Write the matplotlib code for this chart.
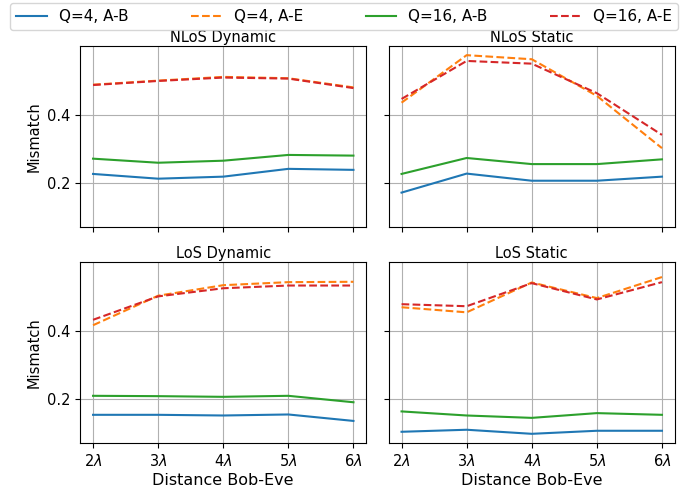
"""Plot the mismatch against the Bob-Eve distance for four scenarios."""

from matplotlib import pyplot


# Distances between Bob and Eve (in wavelengths).
distances = [2, 3, 4, 5, 6]
tick_labels = [r'$2\lambda$', r'$3\lambda$', r'$4\lambda$', r'$5\lambda$',
               r'$6\lambda$']

series_labels = ['Q=4, A-B', 'Q=4, A-E', 'Q=16, A-B', 'Q=16, A-E']

# Mismatch values (order: Q4 A-B, Q4 A-E, Q16 A-B, Q16 A-E).
nlos_dynamic = [
    [0.226, 0.212, 0.218, 0.241, 0.238],
    [0.489, 0.501, 0.512, 0.508, 0.481],
    [0.271, 0.259, 0.265, 0.282, 0.280],
    [0.488, 0.500, 0.510, 0.507, 0.479],
]
nlos_static = [
    [0.171, 0.227, 0.206, 0.206, 0.218],
    [0.436, 0.576, 0.564, 0.456, 0.302],
    [0.226, 0.273, 0.255, 0.255, 0.269],
    [0.447, 0.559, 0.551, 0.464, 0.341],
]
los_dynamic = [
    [0.154, 0.154, 0.152, 0.155, 0.136],
    [0.418, 0.505, 0.536, 0.545, 0.546],
    [0.210, 0.209, 0.207, 0.210, 0.191],
    [0.434, 0.503, 0.527, 0.535, 0.535],
]
los_static = [
    [0.104, 0.110, 0.098, 0.107, 0.107],
    [0.471, 0.456, 0.544, 0.498, 0.560],
    [0.164, 0.152, 0.145, 0.159, 0.154],
    [0.480, 0.474, 0.542, 0.494, 0.545],
]

panels = [
    ('NLoS Dynamic', nlos_dynamic),
    ('NLoS Static', nlos_static),
    ('LoS Dynamic', los_dynamic),
    ('LoS Static', los_static),
]

colors = ['C0', 'C1', 'C2', 'C3']
linestyles = ['-', '--', '-', '--']

fig, axes = pyplot.subplots(2, 2, figsize=(6.94, 4.91), dpi=100,
                            sharex=True, sharey=True)
fig.subplots_adjust(left=0.1153, right=0.9726, top=0.9063, bottom=0.0978,
                    wspace=0.077, hspace=0.199)

for ax, (title, values) in zip(axes.flat, panels):
    for vals, color, ls, label in zip(values, colors, linestyles,
                                      series_labels):
        ax.plot(distances, vals, color=color, linestyle=ls, label=label)
    ax.set_title(title, fontsize=10.5, pad=3)
    ax.grid(True)
    ax.tick_params(axis='both', labelsize=10.5)

axes[0, 0].set_ylim(0.071, 0.603)
axes[0, 0].set_yticks([0.2, 0.4])
for ax in axes[1]:
    ax.set_xticks(distances)
    ax.set_xticklabels(tick_labels)
    ax.set_xlabel('Distance Bob-Eve', fontsize=11.5, labelpad=3)
for ax in axes[:, 0]:
    ax.set_ylabel('Mismatch', fontsize=10.5)

handles, labels = axes[0, 0].get_legend_handles_labels()
fig.legend(handles, labels, loc='upper left', ncol=4, mode='expand',
           bbox_to_anchor=(0.0144, 0.994, 0.963, 0.0), borderaxespad=0.0,
           fontsize=11)

fig.savefig('out.png', dpi=100)
